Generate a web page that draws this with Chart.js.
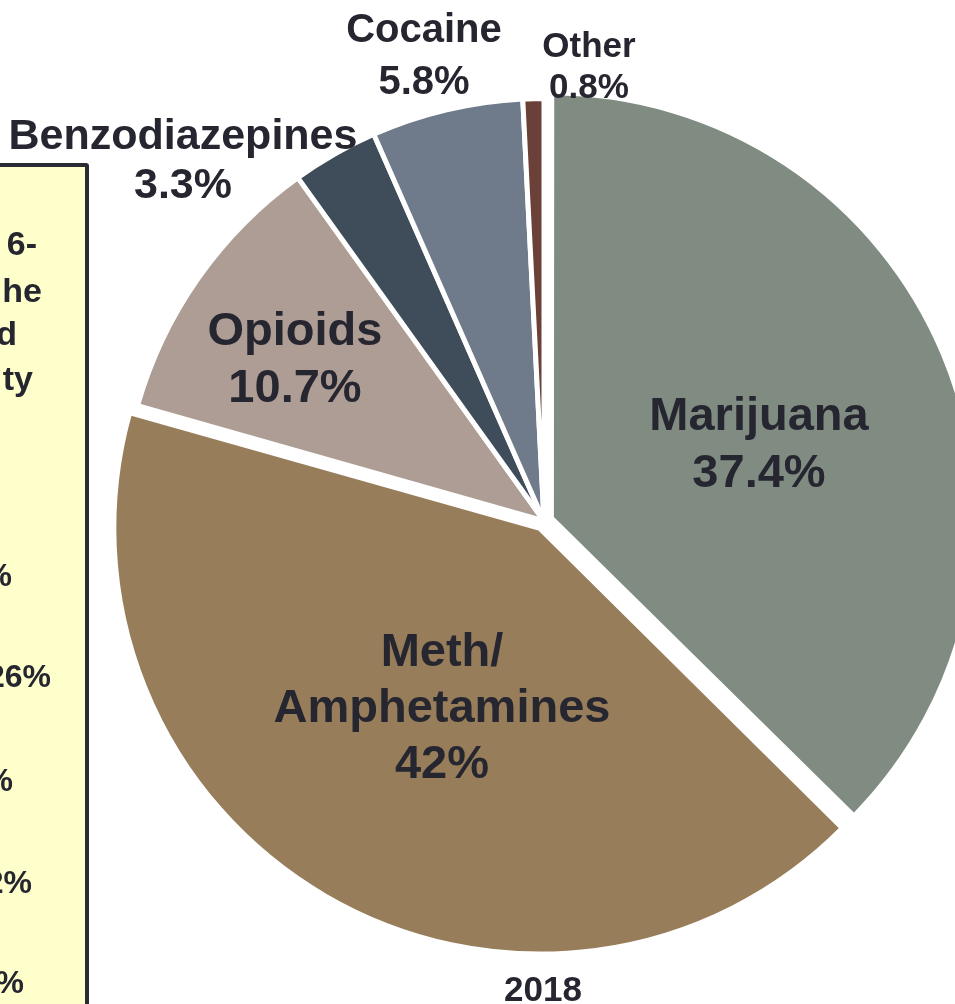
<!DOCTYPE html>
<html>
<head>
<meta charset="utf-8">
<script src="https://cdn.jsdelivr.net/npm/chart.js@4.4.1/dist/chart.umd.min.js"></script>
<style>
  html, body { margin: 0; padding: 0; background: #ffffff; overflow: hidden; }
  #wrap { position: relative; width: 955px; height: 1004px; overflow: hidden; }
  #c { position: absolute; left: 0; top: 0; }
  .lbl { position: absolute; transform: translateX(-50%); text-align: center; white-space: nowrap;
         font-family: "Liberation Sans", Arial, sans-serif; font-weight: bold; color: #262630; }
  #box { position: absolute; left: -10px; top: 163px; width: 91px; height: 900px;
         background: #ffffcc; border: 4px solid #2b2b33; border-radius: 3px; }
  .bt { position: absolute; transform: translateX(-100%); white-space: nowrap;
        font-family: "Liberation Sans", Arial, sans-serif; font-weight: bold; color: #262630; }
</style>
</head>
<body>
<div id="wrap">
  <div id="box"></div>
  <canvas id="c" width="955" height="1004"></canvas>
</div>
<script>
// ---- data ----
const categories = ['Marijuana', 'Meth/Amphetamines', 'Opioids', 'Benzodiazepines', 'Cocaine', 'Other'];
const labelLines = [['Marijuana'], ['Meth/', 'Amphetamines'], ['Opioids'], ['Benzodiazepines'], ['Cocaine'], ['Other']];
const values = [37.4, 42, 10.7, 3.3, 5.8, 0.8];
const valueText = ['37.4%', '42%', '10.7%', '3.3%', '5.8%', '0.8%'];
const yearLabel = '2018';
const boxFragments = ['6-', 'he', 'd', 'ty', '%', '26%', '%', '2%', '%'];

// ---- styles ----
const sliceColors = ['#808c82', '#977d5a', '#ad9d94', '#3f4d5b', '#6f7b8b', '#6b4038'];
const sliceOffsets = [32, 32, 0, 0, 0, 0];
const sliceBorders = [5, 6, 5, 5, 5, 5];
// label layout: center x, top, font size, line height
const labelLayout = [
  { x: 759, y: 385, f: 47, lh: 57 },
  { x: 442, y: 622, f: 47, lh: 56 },
  { x: 295, y: 300, f: 47, lh: 57 },
  { x: 183, y: 110, f: 43, lh: 49 },
  { x: 424, y: 2,   f: 40, lh: 52 },
  { x: 589, y: 24,  f: 35, lh: 41 }
];
const boxLayout = [
  { x: 37, y: 223, f: 34 }, { x: 42, y: 270, f: 34 }, { x: 17, y: 313, f: 34 }, { x: 33, y: 358, f: 34 },
  { x: 12, y: 555, f: 32 }, { x: 51, y: 656, f: 32 }, { x: 13, y: 760, f: 32 }, { x: 32, y: 862, f: 32 },
  { x: 24, y: 962, f: 32 }
];

new Chart(document.getElementById('c').getContext('2d'), {
  type: 'pie',
  data: {
    labels: categories,
    datasets: [{
      data: values,
      backgroundColor: sliceColors,
      borderColor: '#ffffff',
      borderWidth: sliceBorders,
      offset: sliceOffsets,
      hoverOffset: 0,
      radius: 422.5,
      clip: false
    }]
  },
  options: {
    responsive: false,
    devicePixelRatio: 1,
    animation: false,
    events: [],
    layout: { padding: { left: 133, right: 0, top: 38, bottom: 0 } },
    plugins: { legend: { display: false }, tooltip: { enabled: false } }
  }
});

const wrap = document.getElementById('wrap');
categories.forEach((c, i) => {
  const L = labelLayout[i];
  const d = document.createElement('div');
  d.className = 'lbl';
  d.style.left = L.x + 'px';
  d.style.top = L.y + 'px';
  d.style.fontSize = L.f + 'px';
  d.style.lineHeight = L.lh + 'px';
  d.innerHTML = labelLines[i].concat([valueText[i]]).join('<br>');
  wrap.appendChild(d);
});
const yr = document.createElement('div');
yr.className = 'lbl';
yr.style.left = '543px'; yr.style.top = '969px'; yr.style.fontSize = '35px'; yr.style.lineHeight = '40px';
yr.textContent = yearLabel;
wrap.appendChild(yr);
boxFragments.forEach((t, i) => {
  const B = boxLayout[i];
  const s = document.createElement('div');
  s.className = 'bt';
  s.style.left = B.x + 'px';
  s.style.top = B.y + 'px';
  s.style.fontSize = B.f + 'px';
  s.style.lineHeight = '40px';
  s.textContent = t;
  wrap.appendChild(s);
});
</script>
</body>
</html>
